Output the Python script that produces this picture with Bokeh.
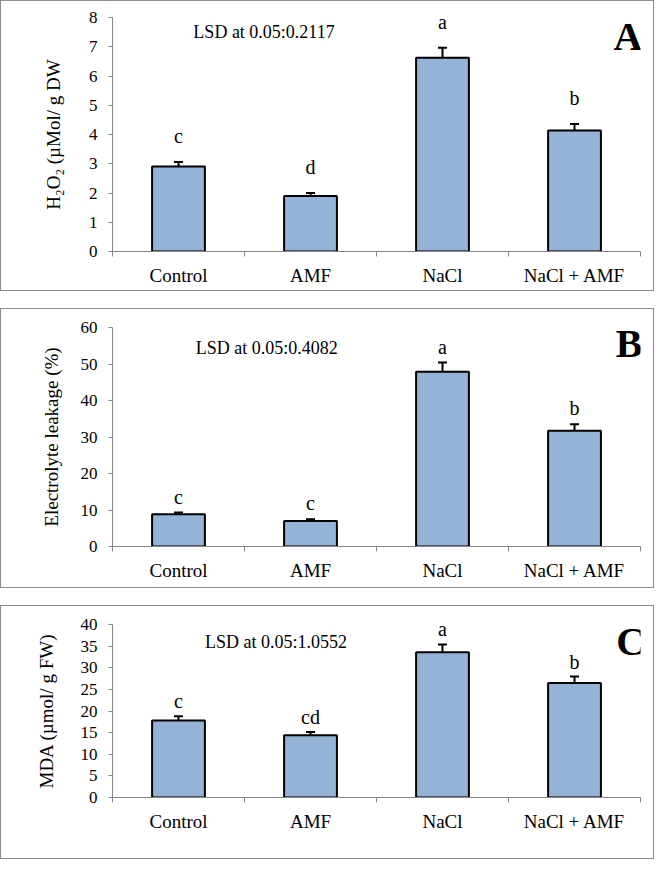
from bokeh.plotting import figure
from bokeh.models import (ColumnDataSource, FixedTicker, Whisker, TeeHead,
                          LabelSet, Label, Range1d)
from bokeh.layouts import column
from bokeh.embed import file_html
from bokeh.resources import INLINE

# ---------------- data ----------------
categories = ["Control", "AMF", "NaCl", "NaCl + AMF"]

h2o2 = [2.91, 1.90, 6.62, 4.14]
h2o2_err = [0.15, 0.10, 0.35, 0.22]
h2o2_letters = ["c", "d", "a", "b"]

leakage = [8.85, 7.0, 47.9, 31.7]
leakage_err = [0.45, 0.45, 2.5, 1.8]
leakage_letters = ["c", "c", "a", "b"]

mda = [17.8, 14.4, 33.6, 26.5]
mda_err = [1.0, 0.75, 1.8, 1.45]
mda_letters = ["c", "cd", "a", "b"]

FONT = "Liberation Serif"
BAR_COLOR = "#95B3D7"
AXIS_COLOR = "#868686"


def make_panel(values, errs, letters, ylabel, ymax, ystep, lsd_text, lsd_xy,
               tag, tag_xy, height, borders, letter_offset, label_standoff):
    left, right, top, bottom = borders
    p = figure(width=654, height=height, output_backend="svg",
               toolbar_location=None, x_range=Range1d(0, len(categories)),
               y_range=Range1d(0, ymax), min_border_left=left,
               min_border_right=right, min_border_top=top,
               min_border_bottom=bottom,
               styles={"border": "1px solid #8c8c8c"})
    p.outline_line_color = None
    p.grid.visible = False
    p.background_fill_color = "white"
    p.border_fill_color = "white"

    xs = [i + 0.5 for i in range(len(categories))]
    src = ColumnDataSource(dict(
        x=xs, top=values,
        upper=[v + e for v, e in zip(values, errs)],
        lower=[v - e for v, e in zip(values, errs)],
        letters=letters))

    p.vbar(x="x", top="top", width=0.4, source=src, fill_color=BAR_COLOR,
           line_color="black", line_width=2)
    w = Whisker(source=src, base="x", upper="upper", lower="lower",
                line_color="black", line_width=2,
                upper_head=TeeHead(size=9, line_color="black", line_width=2),
                lower_head=TeeHead(size=9, line_color="black", line_width=2))
    p.add_layout(w)

    ls = LabelSet(source=src, x="x", y="upper", text="letters",
                  y_offset=letter_offset, text_align="center",
                  text_baseline="middle", text_font=FONT,
                  text_font_size="20px", text_color="black")
    p.add_layout(ls)

    p.add_layout(Label(x=lsd_xy[0], y=lsd_xy[1], text=lsd_text,
                       text_align="center", text_baseline="middle",
                       text_font=FONT, text_font_size="18px",
                       text_color="black"))
    p.add_layout(Label(x=tag_xy[0], y=tag_xy[1], text=tag,
                       text_align="center", text_baseline="middle",
                       text_font=FONT, text_font_size="40px",
                       text_font_style="bold", text_color="black"))

    # x axis: category labels centred, ticks at boundaries
    xa = p.xaxis[0]
    xa.ticker = FixedTicker(ticks=xs, minor_ticks=list(range(len(categories) + 1)))
    xa.major_label_overrides = {x: c for x, c in zip(xs, categories)}
    xa.major_tick_line_color = None
    xa.major_tick_out = 0
    xa.major_tick_in = 0
    xa.minor_tick_out = 5
    xa.minor_tick_in = 0
    xa.minor_tick_line_color = AXIS_COLOR
    xa.axis_line_color = AXIS_COLOR
    xa.major_label_standoff = 8
    xa.major_label_text_font = FONT
    xa.major_label_text_font_size = "19px"
    xa.major_label_text_color = "black"

    ya = p.yaxis[0]
    ya.ticker = FixedTicker(ticks=list(range(0, ymax + 1, ystep)))
    ya.axis_line_color = AXIS_COLOR
    ya.major_tick_line_color = AXIS_COLOR
    ya.major_tick_out = 4
    ya.major_tick_in = 0
    ya.minor_tick_line_color = None
    ya.major_label_standoff = 11
    ya.major_label_text_font = FONT
    ya.major_label_text_font_size = "17px"
    ya.major_label_text_color = "black"
    ya.axis_label = ylabel
    ya.axis_label_text_font = FONT
    ya.axis_label_text_font_size = "19px"
    ya.axis_label_text_font_style = "normal"
    ya.axis_label_text_color = "black"
    ya.axis_label_standoff = label_standoff
    return p


pa = make_panel(h2o2, h2o2_err, h2o2_letters, "H\u2082O\u2082 (\u00b5Mol/ g DW",
                8, 1, "LSD at 0.05:0.2117", (1.148, 7.52), "A", (3.905, 7.35),
                291, (99, 15, 16, 41), 26, 22)
pb = make_panel(leakage, leakage_err, leakage_letters, "Electrolyte leakage (%)",
                60, 10, "LSD at 0.05:0.4082", (1.169, 54.3), "B", (3.913, 55.7),
                280, (94, 15, 18, 43), 16, 16)
pc = make_panel(mda, mda_err, mda_letters, "MDA (\u00b5mol/ g FW)",
                40, 5, "LSD at 0.05:1.0552", (1.239, 35.9), "C", (3.925, 36.1),
                254, (111, 15, 18, 63), 15, 21)

layout = column(pa, pb, pc, spacing=17)

open("out.html", "w").write(file_html(layout, INLINE))
